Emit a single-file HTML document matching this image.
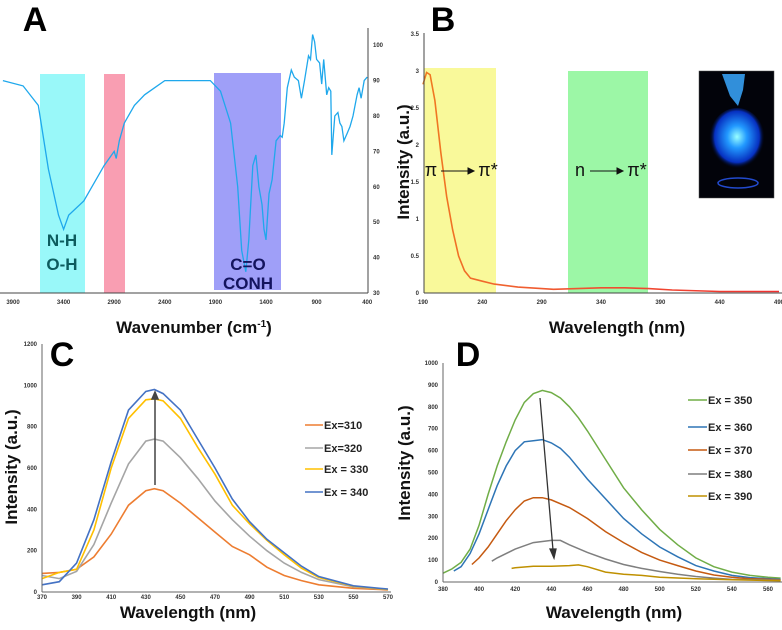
<!DOCTYPE html>
<html><head><meta charset="utf-8"><style>
html,body{margin:0;padding:0;background:#fff;}
svg{display:block;font-family:"Liberation Sans",sans-serif;}
.tk{font-size:6px;font-weight:bold;fill:#333;}
.ttl{font-size:17px;font-weight:bold;fill:#111;}
.big{font-size:34px;font-weight:bold;fill:#000;}
.leg{font-size:11px;font-weight:bold;fill:#222;}
</style></head><body>
<svg id="fig" width="782" height="630" viewBox="0 0 782 630"></svg>
<script>
// ---- Panel A: FTIR ----
const aWavenumbers=[4000,3800,3650,3550,3450,3400,3350,3200,3000,2900,2880,2850,2800,2700,2600,2500,2400,2100,1950,1850,1750,1680,1640,1600,1570,1530,1500,1470,1440,1420,1400,1370,1340,1300,1260,1240,1220,1190,1150,1120,1080,1050,1020,980,960,940,920,900,870,850,830,800,780,760,750,720,690,670,650,630,600,570,540,500,480,460,430,400];
const aTransmittance=[90,88.5,83,65,52,48,52,56,66,70,68,73,78,83,86,88,90,90,90,87,78,60,42,36,45,66,69,60,55,48,45,58,62,73,74.5,74,78,88,93,91,90,85,90,97,96,103,101,96,95,89,96,86,88,87,69,80,81,78,77,73,75,77,80,86,88,85,90,91];
const aXTicks=[3900,3400,2900,2400,1900,1400,900,400];
const aYTicks=[30,40,50,60,70,80,90,100];
// ---- Panel B: UV-Vis ----
const bWavelengths=[190,193,196,200,205,210,215,220,225,230,240,250,270,300,320,340,360,380,400,440,490];
const bAbsorbance=[2.82,2.98,2.95,2.6,1.9,1.3,0.85,0.5,0.3,0.2,0.16,0.12,0.08,0.05,0.06,0.07,0.07,0.06,0.04,0.02,0.02];
const bXTicks=[190,240,290,340,390,440,490];
const bYTicks=[0,0.5,1,1.5,2,2.5,3,3.5];
// ---- Panel C: emission ----
const cWavelengths=[370,380,390,400,410,420,430,435,440,450,460,470,480,490,500,510,520,530,550,570];
const cEx310=[90,95,110,170,280,420,490,500,490,430,360,290,220,180,120,80,55,35,18,10];
const cEx320=[80,65,100,230,430,620,730,740,730,650,550,440,350,270,200,140,95,60,25,12];
const cEx330=[65,95,110,300,600,840,930,935,925,840,700,570,420,330,250,180,115,70,28,12];
const cEx340=[35,50,140,350,630,880,970,980,960,880,740,600,450,340,255,190,125,75,30,14];
const cLabels=["Ex=310","Ex=320","Ex = 330","Ex = 340"];
const cXTicks=[370,390,410,430,450,470,490,510,530,550,570];
const cYTicks=[0,200,400,600,800,1000,1200];
// ---- Panel D: emission ----
const d350x=[380,385,390,395,400,405,410,415,420,425,430,435,440,445,450,455,460,470,480,490,500,510,520,530,540,550,560,567];
const d350y=[40,60,90,150,260,400,530,640,740,820,860,875,865,840,800,750,690,560,430,330,240,170,110,70,45,30,22,18];
const d360x=[386,390,395,400,405,410,415,420,425,430,435,440,445,450,460,470,480,490,500,510,520,530,540,550,567];
const d360y=[50,70,130,220,330,440,530,600,640,645,650,635,610,570,470,380,290,220,160,115,75,50,30,20,12];
const d370x=[396,400,405,410,415,420,425,430,435,440,450,460,470,480,490,500,510,520,530,540,550,567];
const d370y=[80,110,160,220,280,330,370,385,385,375,340,290,230,180,135,100,75,50,32,22,15,10];
const d380x=[407,410,420,430,440,445,450,460,470,480,490,500,510,520,530,540,567];
const d380y=[95,110,150,180,190,190,170,135,105,80,62,48,35,25,18,12,8];
const d390x=[418,420,430,440,450,455,460,470,480,490,500,520,540,567];
const d390y=[62,65,72,72,75,78,70,45,35,30,22,15,10,6];
const dLabels=["Ex = 350","Ex = 360","Ex = 370","Ex = 380","Ex = 390"];
const dXTicks=[380,400,420,440,460,480,500,520,540,560];
const dYTicks=[0,100,200,300,400,500,600,700,800,900,1000];

const NS="http://www.w3.org/2000/svg";
const svg=document.getElementById('fig');
function mk(tag,attrs,parent){const e=document.createElementNS(NS,tag);for(const k in attrs)e.setAttribute(k,attrs[k]);(parent||svg).appendChild(e);return e;}
function txt(s,x,y,cls,anchor,parent){const t=mk('text',{x:x,y:y,class:cls,'text-anchor':anchor||'middle'},parent);t.textContent=s;return t;}
function pathD(xs,ys,sx,sy){return xs.map((v,i)=>(i?'L':'M')+sx(v).toFixed(1)+','+sy(ys[i]).toFixed(1)).join(' ');}

const defs=mk('defs',{});
defs.innerHTML='<radialGradient id="glow" cx="50%" cy="45%" r="50%"><stop offset="0" stop-color="#9ff" /><stop offset="0.35" stop-color="#29f"/><stop offset="0.8" stop-color="#0630c0"/><stop offset="1" stop-color="#000" stop-opacity="0"/></radialGradient><linearGradient id="uvgrad" x1="0" x2="1"><stop offset="0" stop-color="#f07a20"/><stop offset="0.25" stop-color="#f06030"/><stop offset="1" stop-color="#f03030"/></linearGradient>';

// ===== Panel A =====
const gA=mk('g',{});


const axA=w=>13+(3900-w)/500*50.6;
const ayA=t=>293-(t-30)*3.54;
let r;
r=mk('rect',{x:40,y:74,width:45,height:219,fill:'#7ff6f8',opacity:0.8},gA);


r=mk('rect',{x:104,y:74,width:21,height:219,fill:'#f77e98',opacity:0.75},gA);


r=mk('rect',{x:214,y:73,width:67,height:217,fill:'#7f7ff6',opacity:0.75},gA);


let p=mk('path',{d:pathD(aWavenumbers,aTransmittance,axA,ayA),fill:'none',stroke:'#1fa8ec','stroke-width':1.3},gA);


let l=mk('line',{x1:0,y1:293,x2:368,y2:293,stroke:'#444','stroke-width':1},gA);


l=mk('line',{x1:368,y1:28,x2:368,y2:293,stroke:'#444','stroke-width':1},gA);


aXTicks.forEach(v=>{const t=txt(v,axA(v),304,'tk','middle',gA);

});
aYTicks.forEach(v=>{const t=txt(v,373,ayA(v)+2,'tk','start',gA);

});
let t;
t=txt('N-H',62,246,'ttl','middle',gA);t.setAttribute('style','fill:#0d5c5e;font-size:17px');


t=txt('O-H',62,270,'ttl','middle',gA);t.setAttribute('style','fill:#0d5c5e;font-size:17px');


t=txt('C=O',248,270,'ttl','middle',gA);t.setAttribute('style','fill:#14145e;font-size:17px');


t=txt('CONH',248,289,'ttl','middle',gA);t.setAttribute('style','fill:#14145e;font-size:17px');


t=txt('A',35,31,'big','middle',gA);


t=mk('text',{x:194,y:333,class:'ttl','text-anchor':'middle'},gA);t.innerHTML='Wavenumber (cm<tspan dy="-6" font-size="10">-1</tspan><tspan dy="6">)</tspan>';



// ===== Panel B =====
const gB=mk('g',{});


const axB=w=>423+(w-190)*356/300;
const ayB=a=>293-a*74;
r=mk('rect',{x:424,y:68,width:72,height:225,fill:'#f9f99a'},gB);


r=mk('rect',{x:568,y:71,width:80,height:222,fill:'#9cf7a6'},gB);


p=mk('path',{d:pathD(bWavelengths,bAbsorbance,axB,ayB),fill:'none',stroke:'url(#uvgrad)','stroke-width':1.6},gB);


l=mk('line',{x1:424,y1:33,x2:424,y2:293,stroke:'#444'},gB);


l=mk('line',{x1:424,y1:293,x2:782,y2:293,stroke:'#444'},gB);


bXTicks.forEach(v=>{const tt=txt(v,axB(v),304,'tk','middle',gB);

});
bYTicks.forEach(v=>{const tt=txt(v,419,ayB(v)+2,'tk','end',gB);

});
t=txt('π',431,176,'ttl','middle',gB);t.setAttribute('style','font-weight:normal;font-size:18px');


t=txt('π*',488,176,'ttl','middle',gB);t.setAttribute('style','font-weight:normal;font-size:18px');


t=txt('n',580,176,'ttl','middle',gB);t.setAttribute('style','font-weight:normal;font-size:18px');


t=txt('π*',637,176,'ttl','middle',gB);t.setAttribute('style','font-weight:normal;font-size:18px');


[[441,474],[590,623]].forEach(a=>{const ar=mk('path',{d:`M${a[0]},171 L${a[1]-5},171 M${a[1]-6},168 L${a[1]},171 L${a[1]-6},174 Z`,stroke:'#111','stroke-width':1,fill:'#111'},gB);

});
const inset=mk('g',{},gB);


mk('rect',{x:699,y:71,width:75,height:127,fill:'#02030a',stroke:'#555','stroke-width':0.5},inset);
mk('ellipse',{cx:737,cy:140,rx:28,ry:32,fill:'url(#glow)'},inset);
mk('path',{d:'M722,74 L745,74 L743,90 L738,106 L730,96 Z',fill:'#3aa8ff',opacity:0.85},inset);
mk('ellipse',{cx:738,cy:183,rx:20,ry:5,fill:'none',stroke:'#2b5cff','stroke-width':1.5,opacity:0.8},inset);
t=txt('B',443,31,'big','middle',gB);


t=txt('Intensity (a.u.)',0,0,'ttl','middle',gB);t.setAttribute('transform','translate(409,162) rotate(-90)');


t=txt('Wavelength (nm)',617,333,'ttl','middle',gB);



// ===== Panel C =====
const gC=mk('g',{});


const axC=w=>42+(w-370)*1.73;
const ayC=v=>592-v*248/1200;
const cSeries=[cEx310,cEx320,cEx330,cEx340];
const cColors=['#ed7d31','#a5a5a5','#ffc000','#4472c4'];
cSeries.forEach((s,i)=>{const pp=mk('path',{d:pathD(cWavelengths,s,axC,ayC),fill:'none',stroke:cColors[i],'stroke-width':1.6},gC);

});
l=mk('line',{x1:42,y1:344,x2:42,y2:592,stroke:'#666'},gC);


l=mk('line',{x1:42,y1:592,x2:391,y2:592,stroke:'#666'},gC);


cXTicks.forEach(v=>{const tt=txt(v,axC(v),599,'tk','middle',gC);

});
cYTicks.forEach(v=>{const tt=txt(v,37,ayC(v)+2,'tk','end',gC);

});
const cLegY=[425,448,469,492];
cLabels.forEach((s,i)=>{const lg=mk('g',{},gC);


mk('line',{x1:305,y1:cLegY[i],x2:323,y2:cLegY[i],stroke:cColors[i],'stroke-width':1.6},lg);
txt(s,324,cLegY[i]+4,'leg','start',lg);});
p=mk('path',{d:'M155,485 L155,398 M152,399 L155,392 L158,399 Z',stroke:'#444','stroke-width':1.5,fill:'#444'},gC);


t=txt('C',62,366,'big','middle',gC);


t=txt('Intensity (a.u.)',0,0,'ttl','middle',gC);t.setAttribute('transform','translate(17,467) rotate(-90)');


t=txt('Wavelength (nm)',188,618,'ttl','middle',gC);



// ===== Panel D =====
const gD=mk('g',{});


const axD=w=>443+(w-380)*325/180;
const ayD=v=>582-v*0.219;
const dXs=[d350x,d360x,d370x,d380x,d390x];
const dYs=[d350y,d360y,d370y,d380y,d390y];
const dColors=['#70ad47','#2e75b6','#c55a11','#7f7f7f','#bf9000'];
dXs.forEach((xs,i)=>{const pp=mk('path',{d:pathD(xs,dYs[i],axD,ayD),fill:'none',stroke:dColors[i],'stroke-width':1.5},gD);

});
l=mk('line',{x1:443,y1:363,x2:443,y2:582,stroke:'#666'},gD);


l=mk('line',{x1:443,y1:582,x2:782,y2:582,stroke:'#666'},gD);


dXTicks.forEach(v=>{const tt=txt(v,axD(v),591,'tk','middle',gD);

});
dYTicks.forEach(v=>{const tt=txt(v,438,ayD(v)+2,'tk','end',gD);

});
const dLegY=[400,427,450,474,496];
dLabels.forEach((s,i)=>{const lg=mk('g',{},gD);


mk('line',{x1:688,y1:dLegY[i],x2:707,y2:dLegY[i],stroke:dColors[i],'stroke-width':1.6},lg);
txt(s,708,dLegY[i]+4,'leg','start',lg);});
p=mk('path',{d:'M540,398 L553,550 M550,549 L554,558 L556,549 Z',stroke:'#333','stroke-width':1.3,fill:'#333'},gD);


t=txt('D',468,366,'big','middle',gD);


t=txt('Intensity (a.u.)',0,0,'ttl','middle',gD);t.setAttribute('transform','translate(410,463) rotate(-90)');


t=txt('Wavelength (nm)',614,618,'ttl','middle',gD);


</script>
</body></html>
